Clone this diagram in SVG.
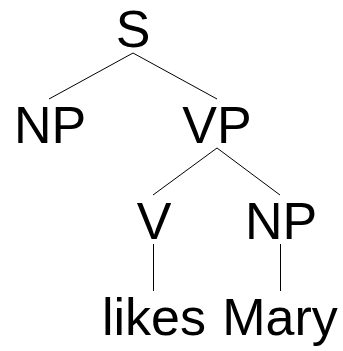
<svg xmlns="http://www.w3.org/2000/svg" width="343" height="351" viewBox="0 0 343 351">
  <style>
    .lbl { font-family: "Liberation Sans", Arial, sans-serif; font-size: 52px; fill: #000; text-anchor: middle; }
    .edge { stroke: #000; stroke-width: 1; fill: none; }
  </style>
  <rect width="343" height="351" fill="#fff"/>
  <g id="connectors">
    <line class="edge" x1="133" y1="53" x2="49" y2="99"/>
    <line class="edge" x1="133" y1="53" x2="217" y2="99"/>
    <line class="edge" x1="217" y1="148" x2="153" y2="195"/>
    <line class="edge" x1="217" y1="148" x2="280" y2="195"/>
    <line class="edge" x1="153.5" y1="244" x2="153.5" y2="291"/>
    <line class="edge" x1="280.5" y1="244" x2="280.5" y2="291"/>
  </g>
  <g id="node-S"><text class="lbl" x="133" y="47">S</text></g>
  <g id="node-NP1"><text class="lbl" x="50" y="143">NP</text></g>
  <g id="node-VP"><text class="lbl" x="217" y="143">VP</text></g>
  <g id="node-V"><text class="lbl" x="154" y="239">V</text></g>
  <g id="node-NP2"><text class="lbl" x="281" y="239">NP</text></g>
  <g id="node-likes"><text class="lbl" x="154" y="335">likes</text></g>
  <g id="node-Mary"><text class="lbl" x="280" y="335">Mary</text></g>
</svg>
